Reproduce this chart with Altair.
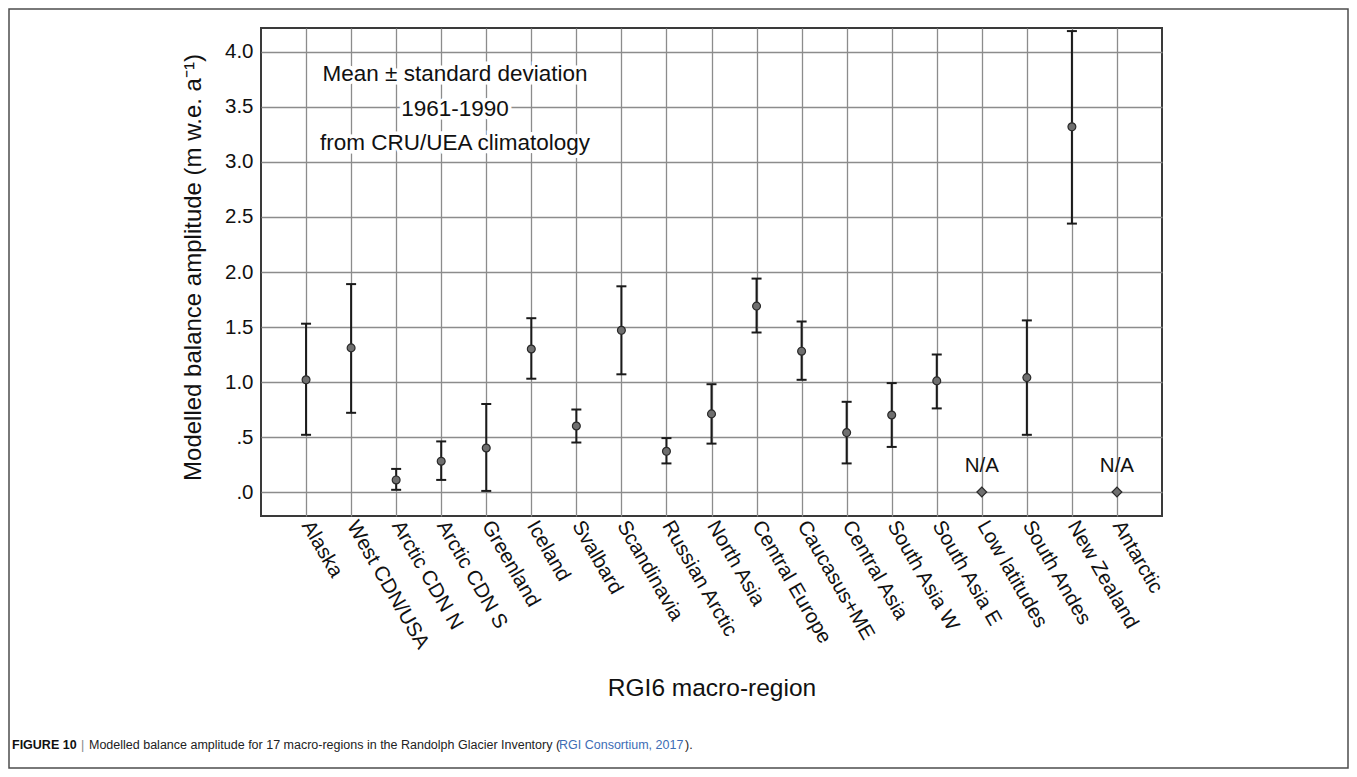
import altair as alt
import pandas as pd

regions = ["Alaska", "West CDN/USA", "Arctic CDN N", "Arctic CDN S", "Greenland",
           "Iceland", "Svalbard", "Scandinavia", "Russian Arctic", "North Asia",
           "Central Europe", "Caucasus+ME", "Central Asia", "South Asia W",
           "South Asia E", "Low latitudes", "South Andes", "New Zealand", "Antarctic"]
means = [1.02, 1.31, 0.11, 0.28, 0.40, 1.30, 0.60, 1.47, 0.37, 0.71,
         1.69, 1.28, 0.54, 0.70, 1.01, 0.00, 1.04, 3.32, 0.00]
uppers = [1.53, 1.89, 0.21, 0.46, 0.80, 1.58, 0.75, 1.87, 0.49, 0.98,
          1.94, 1.55, 0.82, 0.99, 1.25, None, 1.56, 4.19, None]
lowers = [0.52, 0.72, 0.02, 0.11, 0.01, 1.03, 0.45, 1.07, 0.26, 0.44,
          1.45, 1.02, 0.26, 0.41, 0.76, None, 0.52, 2.44, None]
na_flags = [False] * 15 + [True, False, False, True]
y_ticks = [0.0, 0.5, 1.0, 1.5, 2.0, 2.5, 3.0, 3.5, 4.0]
note_lines = ["Mean \u00b1 standard deviation", "1961-1990", "from CRU/UEA climatology"]
caption_bold = "FIGURE 10"
caption_parts = ["|",
                 "Modelled balance amplitude for 17 macro-regions in the Randolph Glacier Inventory (",
                 "RGI Consortium, 2017", ")."]

df = pd.DataFrame({"region": regions, "mean": means, "upper": uppers,
                   "lower": lowers, "na": na_flags})
df["label"] = ["N/A" if f else "" for f in na_flags]

FONT = "Liberation Sans"
W, H = 901, 488

xs = alt.Scale(type="point", domain=regions, padding=1.55)
ys = alt.Scale(domain=[-0.218, 4.218], nice=False, zero=False)

x_enc = alt.X("region:N", scale=xs, sort=regions, axis=alt.Axis(
    grid=True, ticks=False, domain=False, labelAngle=60, labelAlign="left",
    labelBaseline="middle", labelPadding=6, labelFontSize=20.5, labelFont=FONT,
    labelColor="#111", title="RGI6 macro-region", titleFont=FONT, titleFontSize=24.5,
    titleFontWeight="normal", titleColor="#111", titleY=172, titleBaseline="middle",
    gridColor="#8c8c8c", gridWidth=1.3))
y_axis = alt.Axis(values=y_ticks, grid=True, ticks=False, domain=False,
                  labelFontSize=20.5, labelFont=FONT, labelColor="#111", labelPadding=8,
                  labelExpr="datum.value < 1 ? '.' + format(datum.value * 10, 'd') : format(datum.value, '.1f')",
                  title="Modelled balance amplitude (m w.e. a\u207b\u00b9)", titleFont=FONT,
                  titleFontSize=24, titleFontWeight="normal", titleColor="#111",
                  titleX=-61, titleY=239, titleBaseline="alphabetic", titleAlign="center",
                  gridColor="#8c8c8c", gridWidth=1.3)

base = alt.Chart(df)

bars = base.transform_filter("isValid(datum.upper)").mark_rule(
    color="#1a1a1a", strokeWidth=2).encode(
    x=x_enc, y=alt.Y("lower:Q", scale=ys, axis=y_axis), y2="upper:Q")
cap_hi = base.transform_filter("isValid(datum.upper)").mark_tick(
    color="#1a1a1a", thickness=2, size=10, opacity=1).encode(
    x=alt.X("region:N", scale=xs, sort=regions), y=alt.Y("upper:Q", scale=ys))
cap_lo = base.transform_filter("isValid(datum.lower)").mark_tick(
    color="#1a1a1a", thickness=2, size=10, opacity=1).encode(
    x=alt.X("region:N", scale=xs, sort=regions), y=alt.Y("lower:Q", scale=ys))
pts = base.mark_point(filled=True, fill="#6f6f6f", stroke="#2a2a2a", strokeWidth=1.2,
                      opacity=1).encode(
    x=alt.X("region:N", scale=xs, sort=regions), y=alt.Y("mean:Q", scale=ys),
    shape=alt.condition("datum.na", alt.value("diamond"), alt.value("circle")),
    size=alt.condition("datum.na", alt.value(95), alt.value(62)))
na_text = base.transform_filter("datum.na").mark_text(
    font=FONT, fontSize=20.5, dy=-26, color="#111").encode(
    x=alt.X("region:N", scale=xs, sort=regions), y=alt.Y("mean:Q", scale=ys),
    text="label:N")

note_df = pd.DataFrame({"t": note_lines, "yy": [45.5, 80.5, 115.0]})
note_halo = alt.Chart(note_df).mark_text(
    font=FONT, fontSize=22.5, color="white", stroke="white", strokeWidth=7,
    align="center", baseline="middle").encode(
    x=alt.value(194), y=alt.Y("yy:Q", scale=None), text="t:N")
note = alt.Chart(note_df).mark_text(
    font=FONT, fontSize=22.5, color="#111", align="center", baseline="middle").encode(
    x=alt.value(194), y=alt.Y("yy:Q", scale=None), text="t:N")

cap_bold = alt.Chart(pd.DataFrame({"t": [caption_bold]})).mark_text(
    font=FONT, fontSize=12.5, fontWeight="bold", color="#111", align="left",
    baseline="middle").encode(x=alt.value(-249), y=alt.value(717), text="t:N")
cap_df = pd.DataFrame({
    "t": caption_parts,
    "xx": [-180, -172, 298, 424],
    "c": ["#8a8a8a", "#222", "#3d6db5", "#222"],
})
caption = alt.Chart(cap_df).mark_text(
    font=FONT, fontSize=12.5, align="left", baseline="middle").encode(
    x=alt.X("xx:Q", scale=None), y=alt.value(717), text="t:N",
    color=alt.Color("c:N", scale=None))

frame = alt.Chart(pd.DataFrame({"a": [0]})).mark_rect(
    fill=None, stroke="#4d4d4d", strokeWidth=1.5, clip=False).encode(
    x=alt.value(-252), x2=alt.value(1087), y=alt.value(-19), y2=alt.value(740))

chart = alt.layer(bars, cap_hi, cap_lo, pts, na_text, note_halo, note, cap_bold, caption, frame).properties(
    width=W, height=H,
    padding={"left": 253, "top": 20, "right": 187, "bottom": 253},
    autosize=alt.AutoSizeParams(type="none"),
).configure_view(stroke="#3a3a3a", strokeWidth=2)

chart.save("out.html", embed_options={"renderer": "svg", "actions": False})
